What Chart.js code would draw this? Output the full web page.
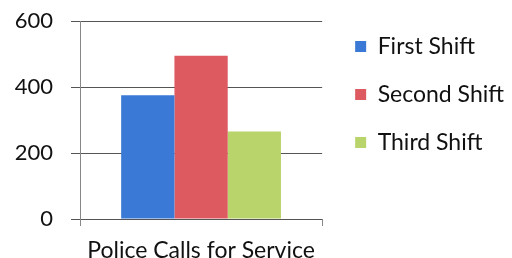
<!DOCTYPE html>
<html>
<head>
<meta charset="utf-8">
<script src="https://cdn.jsdelivr.net/npm/chart.js@4"></script>
<style>
  html, body { margin: 0; padding: 0; background: #fff; }
</style>
</head>
<body>
<canvas id="chart" width="512" height="258"></canvas>
<script>
var categories = ['Police Calls for Service'];
var seriesNames = ['First Shift', 'Second Shift', 'Third Shift'];
var firstShift = [375];
var secondShift = [495];
var thirdShift = [265];
var yTicks = [0, 200, 400, 600];

var colors = ['#3a79d6', '#dc5a60', '#bad46c'];
var fontFamily = 'Lato, "Open Sans", sans-serif';

new Chart(document.getElementById('chart'), {
    type: 'bar',
    data: {
      labels: categories,
      datasets: [{
          label: seriesNames[0],
          data: firstShift,
          backgroundColor: colors[0]
        }, {
          label: seriesNames[1],
          data: secondShift,
          backgroundColor: colors[1]
        }, {
          label: seriesNames[2],
          data: thirdShift,
          backgroundColor: colors[2]
        }
      ]
    },
    options: {
      responsive: false,
      animation: false,
      layout: {
        padding: { top: 10, right: -2, bottom: 0, left: 0 }
      },
      datasets: {
        bar: { categoryPercentage: 0.66, barPercentage: 1 }
      },
      plugins: {
        tooltip: { enabled: false },
        legend: {
          position: 'right',
          align: 'start',
          maxWidth: 260,
          labels: {
            boxWidth: 11,
            boxHeight: 11,
            padding: 25,
            color: '#111',
            font: { family: fontFamily, size: 23 }
          }
        }
      },
      scales: {
        x: {
          grid: { drawOnChartArea: false, tickLength: 7, color: '#888' },
          border: { display: false },
          ticks: { color: '#111', padding: 11, font: { family: fontFamily, size: 23 } },
          afterFit: function (axis) {
            axis.height = 39;
            axis.paddingLeft = 0;
            axis.paddingRight = 0;
          }
        },
        y: {
          min: 0,
          max: 600,
          afterBuildTicks: function (axis) {
            axis.ticks = yTicks.map(function (v) { return { value: v }; });
          },
          grid: { color: '#555', tickLength: 9 },
          border: { display: true, color: '#888' },
          ticks: { color: '#111', padding: 18, font: { family: fontFamily, size: 22 } },
          afterFit: function (axis) {
            axis.width = 80;
            axis.paddingTop = 21;
            axis.paddingBottom = 0;
          }
        },
        // empty spacer between plot and legend
        gap: {
          type: 'linear',
          position: 'right',
          grid: { display: false },
          border: { display: false },
          ticks: { display: false },
          afterFit: function (axis) {
            axis.width = 8;
            axis.paddingTop = 0;
            axis.paddingBottom = 0;
          }
        }
      }
    }
  });
</script>
</body>
</html>
